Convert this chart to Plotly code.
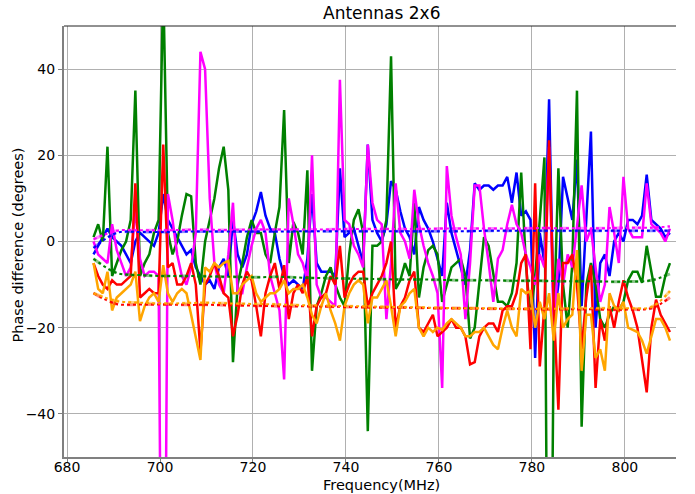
import plotly.graph_objects as go

# Frequency grid (MHz), one sample per MHz
FREQ_START = 685.7
N_POINTS = 125
freq = [round(FREQ_START + i, 1) for i in range(N_POINTS)]

# Measured phase difference (degrees) per antenna pair
blue_vals = [
    -3, -1, 1, 3, 1, 0, -1, -3, -5, 0,
    2, 1, 0, -1, 2, 11, 5, 3, 1, -1,
    -3, -2, -6, -8, -10, -9, -11, -6, -4, -8,
    5, -3, -6, -3, 4, 7, 11.5, 6, 3, 2,
    -4, -8, -10, -9, -10, -11, -4, 11, -5, -7,
    -7, -7, -8, 17, 1, 2, 3, -1, -5, 22.5,
    5, 2, 0, 4, 14, 12, 7, 3, 1, -3,
    8, 5, 3, 0, -4, -8, 9, 2, -2, -6,
    -10, -2, 13.5, 12, 13, 13, 12, 13, 13, 15,
    9, 16, 6, 7, 5, -27, 2, -5, 33, -18,
    -10, 15, 10, 5, 19, -15, 5, 25.5, -20, -5,
    -3, -8, 0, 2, 0, 5, 5, 4, 6, 15.5,
    5, 4, 3, 1, 2,
]
green_vals = [
    1, 4, 0, 22, -8, -5, -2, 0, 5, 35,
    -8, -5, -3, 2, 5, 60, 2, -3, 0, 6,
    11, 10.5, -5, -10, 0, 5, 10, 17, 22, 12,
    -28, -10, -5, 1, 5, 2, 2, -3, -5, 2,
    8, 30.5, -5, 4.5, 2, -3, 16.5, -30, -15, -12,
    -8, -6, -10, -13, -15, -3, 5, 7.5, 2, -44,
    -1, -1, 0, 5, 43, -11, -9, -5, -8, 9,
    -13, -6, -2, -1, -3, -14, -10, -6, -5, -4,
    -8, -22.5, -20, -10, 1, -1, -8, -14, -14, -15,
    -12, -5, 16, -5, -18, -8, 5, 19.5, -150, -20,
    17, -10, -20, -5, 35, -43, -10, -5, -10, -18,
    -20, -17, -15, -16, -14, -9, -7, -7, -9.6, -1,
    -7, -12.8, -12.8, -8, -5,
]
magenta_vals = [
    0, -3, -4, -5, 4, -2, -5, -8, -6, 8,
    -4, -8, -7, -7, -8, -150, 11, 5, -3, -8,
    -10, -6, 2, 44, 40, 10, -5, -10, -12, -3,
    9, -12, -12, -6, -1, 3, 5, 2, -8, -12,
    -16, -32, 10, 4, -3, -5, -9, 20, -10, -13,
    -13, -14, -15, 37.5, 5, 4, -1, -3, -6, 22.5,
    9, 5, 4, -18, -5, 13.5, 2, 0, -4, 12,
    4, -1, -5, -8, -12, -34, 17.5, 6, 1, -3,
    -18, -5, 13, 13, 3, -5, -14, -4, -2, 4,
    8.5, 4, 2, -3, -6, -10, -3, -6, 22, -20,
    -4, -10, -3, -6, 3, 13, 0, 3, -6, -14,
    -10, 8, 2, -5, 15, 3, 1, 1, 1, 13.5,
    4, 3, 2, 0, 3,
]
red_vals = [
    -5, -8, -10, -11, -9, -10, -10, -9, -8, 13.5,
    -13, -12, -11, -12, -12, 22.5, -6, -5, -10, -10,
    -8, -5, -10, -25.5, -10, -8, -5, -8, -12, -13,
    -22, -17, -10, -7, -9, -15, -22, -12, -8, -5,
    -11, -5.5, -18, -12, -10, -12, -8, -22, -15, -13,
    -12, -8, -10, -1, -13, -10, -8, -7, -7, -15,
    -12, -10, -8, -5, 0, -20, -15, -13, -9, -7,
    -20, -21, -19, -17, -22, -21, -20, -18, -20, -20,
    -22, -28.5, -28, -22, -20, -19, -19, -21, -16, -15,
    -15, -12, -5, -3, -25, 13.5, -29, -15, 23.5, -15,
    -39, -5, -5, -3, -10, -25, -13, -5.5, -34, -18,
    -23, -15, -20, -14, -9, -13, -16, -20, -28, -35,
    -20, -13.5, -17, -19, -21,
]
orange_vals = [
    -5, -11, -12, -7, -16, -13, -12, -11, -10, -7,
    -18.5, -15, -13, -12, -14, -5.5, -12, -14, -12, -11,
    -12, -17, -22, -27.5, -6, -7, -5, -6, -5, -4.5,
    -12, -12, -10, -9, -8, -12, -14, -13, -12, -12,
    -11, -9, -12, -11, -11, -10, -13, -17, -19, -15,
    -12, -16, -19, -23, -15, -12, -10, -9, -10, -19,
    -13, -13, -11, -9, -15, -22, -15, -14, -12, -11,
    -20, -22, -20, -21, -20, -20.5, -19, -18, -19, -20,
    -22, -22, -21, -21, -20, -22, -24, -25, -20, -16,
    -20, -22, -11, -12, -11.5, -20, -14, -18, -12, -23,
    -12, -20, -18, -17, -2, -30, -17, -17, -27, -25,
    -30, -12, -15, -16, -14, -20, -20.5, -21, -23, -26,
    -22, -18, -18, -20, -23,
]

# Smoothed (mean) phase difference, sampled every 5 MHz plus the last point
trend_freq = freq[::5] + [freq[-1]]
blue_trend = [-1.5, 2.0, 2.2, 2.2, 2.3, 2.3, 2.3, 2.3, 2.3, 2.4, 2.4, 2.4, 2.4,
              2.4, 2.4, 2.4, 2.4, 2.5, 2.5, 2.5, 2.5, 2.5, 2.5, 2.5, 2.5, 2.5]
magenta_trend = [0.5, 2.5, 2.6, 2.6, 2.7, 2.7, 2.7, 2.8, 2.8, 2.8, 2.8, 2.9, 2.9,
                 2.9, 2.9, 3.0, 3.0, 3.0, 3.0, 3.1, 3.1, 3.1, 3.1, 3.2, 3.2, 3.5]
green_trend = [-4, -7.3, -7.8, -8.0, -8.0, -8.1, -8.2, -8.3, -8.2, -8.4, -8.5, -8.6, -8.7,
               -8.8, -8.8, -8.9, -9.0, -9.0, -9.1, -9.1, -9.2, -9.2, -9.3, -9.3, -9.0, -7.5]
red_trend = [-12, -14.5, -14.6, -14.6, -14.7, -14.7, -14.8, -14.9, -15.0, -15.0, -15.1, -15.2, -15.3,
             -15.3, -15.4, -15.5, -15.5, -15.6, -15.6, -15.7, -15.7, -15.7, -15.8, -15.8, -15.5, -13]
orange_trend = [-12, -13.8, -14.2, -14.4, -14.3, -14.2, -14.4, -14.5, -14.6, -14.8, -14.9, -15.0, -15.1,
                -15.2, -15.3, -15.4, -15.5, -15.5, -15.6, -15.6, -15.6, -15.5, -15.5, -15.5, -15.2, -11.5]

series = [
    ("blue", blue_vals, blue_trend),
    ("green", green_vals, green_trend),
    ("magenta", magenta_vals, magenta_trend),
    ("red", red_vals, red_trend),
    ("orange", orange_vals, orange_trend),
]
colors = {"blue": "#0000ff", "green": "#008000", "magenta": "#ff00ff",
          "red": "#ff0000", "orange": "#ffa500"}

fig = go.Figure()

for name, vals, _ in series:
    fig.add_trace(go.Scatter(x=freq, y=vals, mode="lines", name=name,
                             line=dict(color=colors[name], width=2.5),
                             hoverinfo="skip"))

for name, _, trend in series:
    fig.add_trace(go.Scatter(x=trend_freq, y=trend, mode="lines", opacity=0.45,
                             line=dict(color=colors[name], width=3, dash="dash", shape="spline"),
                             hoverinfo="skip"))
for name, _, trend in series:
    fig.add_trace(go.Scatter(x=trend_freq, y=trend, mode="lines",
                             line=dict(color=colors[name], width=2, dash="dot", shape="spline"),
                             hoverinfo="skip"))

font_family = "DejaVu Sans, Liberation Sans, sans-serif"
axis_common = dict(
    showgrid=True, gridcolor="#b0b0b0", gridwidth=1,
    showline=True, linecolor="#808080", linewidth=2,
    ticks="outside", ticklen=4, tickcolor="#808080", tickwidth=1,
    zeroline=False,
    tickfont=dict(family=font_family, size=14, color="black"),
)

fig.update_layout(
    width=695, height=494,
    margin=dict(l=64, r=19, t=26, b=37),
    paper_bgcolor="white", plot_bgcolor="white",
    showlegend=False,
    font=dict(family=font_family, color="black"),
    xaxis=dict(range=[679.35, 811.0], tickvals=[680, 700, 720, 740, 760, 780, 800],
               ticklabelstandoff=-8, **axis_common),
    yaxis=dict(range=[-50, 50], tickvals=[-40, -20, 0, 20, 40], **axis_common),
    shapes=[dict(type="line", xref="paper", yref="paper", x0=0, x1=1, y0=1, y1=1,
                 line=dict(color="#222222", width=1))],
    annotations=[
        dict(text="Antennas 2x6", xref="paper", yref="paper", x=0.5, y=1,
             xanchor="center", yanchor="bottom", xshift=11, yshift=1, showarrow=False,
             font=dict(family=font_family, size=17, color="black")),
        dict(text="Frequency(MHz)", xref="paper", yref="paper", x=0.5, y=0,
             xanchor="center", yanchor="middle", xshift=11, yshift=-28, showarrow=False,
             font=dict(family=font_family, size=14.5, color="black")),
        dict(text="Phase difference (degrees)", xref="paper", yref="paper", x=0, y=0.5,
             xanchor="center", yanchor="middle", xshift=-47, yshift=-4, textangle=-90,
             showarrow=False,
             font=dict(family=font_family, size=14.5, color="black")),
    ],
)

fig.write_html("out.html")
